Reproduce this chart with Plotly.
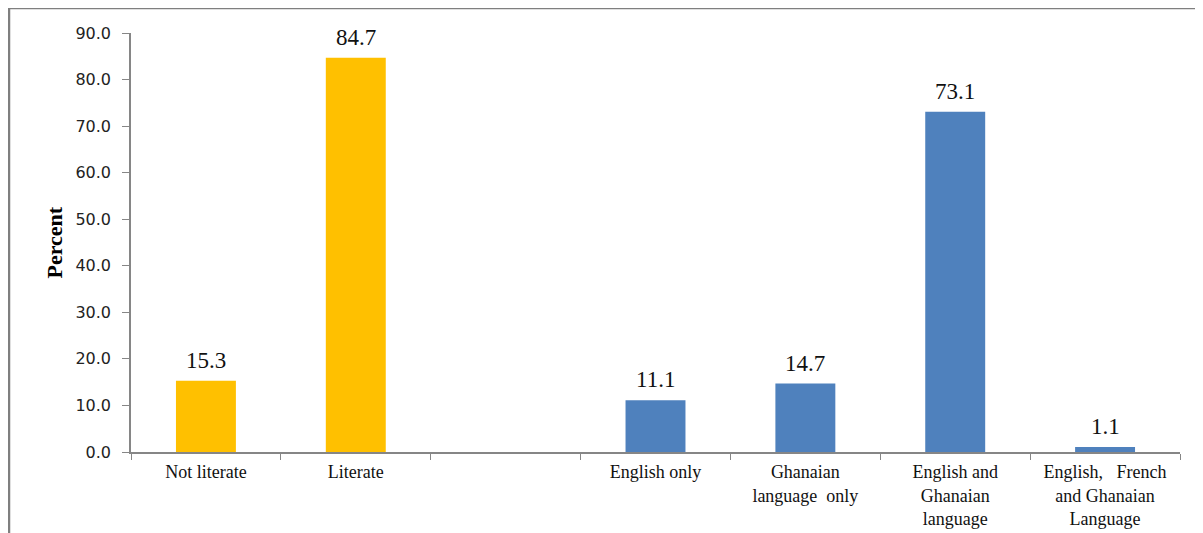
import plotly.graph_objects as go

# ---- data ----
categories = ["Not literate", "Literate", " ", "English only",
              "Ghanaian<br>language&nbsp;&nbsp;only",
              "English and<br>Ghanaian<br>language",
              "English,&nbsp;&nbsp;&nbsp;French<br>and Ghanaian<br>Language"]
literacy_cats = ["Not literate", "Literate"]
literacy_vals = [15.3, 84.7]
language_cats = categories[3:]
language_vals = [11.1, 14.7, 73.1, 1.1]
y_ticks = [0, 10, 20, 30, 40, 50, 60, 70, 80, 90]

GOLD = "#FFC000"
BLUE = "#4F81BD"
AXIS = "#868686"

# page body has an 8px margin; figure placed at (8, 8)
OFF = 8
W, H = 1195, 525
L, R, T, B = 123, 23, 25, 81
pw, ph = W - L - R, H - T - B

def px_x(p):  # page px -> paper
    return (p - OFF - L) / pw

def px_y(p):
    return (H - B - (p - OFF)) / ph

fig = go.Figure()
fig.add_trace(go.Bar(x=literacy_cats, y=literacy_vals, marker_color=GOLD,
                     marker_line_width=0, width=0.4, showlegend=False))
fig.add_trace(go.Bar(x=language_cats, y=language_vals, marker_color=BLUE,
                     marker_line_width=0, width=0.4, showlegend=False))

for c, v in list(zip(literacy_cats, literacy_vals)) + list(zip(language_cats, language_vals)):
    fig.add_annotation(x=c, y=v, text=f"{v:.1f}", showarrow=False,
                       yanchor="bottom", yshift=6,
                       font=dict(family="Liberation Serif", size=23, color="#111"))

fig.add_annotation(xref="paper", yref="paper", x=px_x(54), y=0.5,
                   xanchor="center", yanchor="middle",
                   text="<b>Percent</b>", textangle=-90, showarrow=False,
                   font=dict(family="Liberation Serif", size=22, color="#000"))

# outer frame lines (top and left)
fig.add_shape(type="line", xref="paper", yref="paper",
              x0=px_x(9), x1=px_x(1215), y0=px_y(8), y1=px_y(8),
              line=dict(color="#7f7f7f", width=2.5))
fig.add_shape(type="line", xref="paper", yref="paper",
              x0=px_x(9), x1=px_x(9), y0=px_y(8), y1=px_y(545),
              line=dict(color="#7f7f7f", width=2.5))

fig.update_layout(
    width=W, height=H,
    margin=dict(l=L, r=R, t=T, b=B, pad=0, autoexpand=False),
    plot_bgcolor="white", paper_bgcolor="white",
    barmode="overlay",
    xaxis=dict(type="category", categoryorder="array", categoryarray=categories,
               tickmode="array", tickvals=categories, ticktext=categories,
               tickson="boundaries", ticks="outside", ticklen=6, tickcolor=AXIS,
               ticklabelstandoff=3, automargin=False,
               showline=True, linecolor=AXIS, linewidth=1.5, showgrid=False,
               tickfont=dict(family="Liberation Serif", size=18, color="#111"),
               range=[-0.5, 6.5], fixedrange=True),
    yaxis=dict(range=[0, 90], tickvals=y_ticks, tickformat=".1f",
               ticks="outside", ticklen=7, tickcolor=AXIS,
               ticklabelstandoff=8, automargin=False,
               showline=True, linecolor=AXIS, linewidth=1.5,
               showgrid=False, zeroline=False,
               tickfont=dict(family="DejaVu Sans", size=16, color="#222")),
)

fig.write_html("out.html")
